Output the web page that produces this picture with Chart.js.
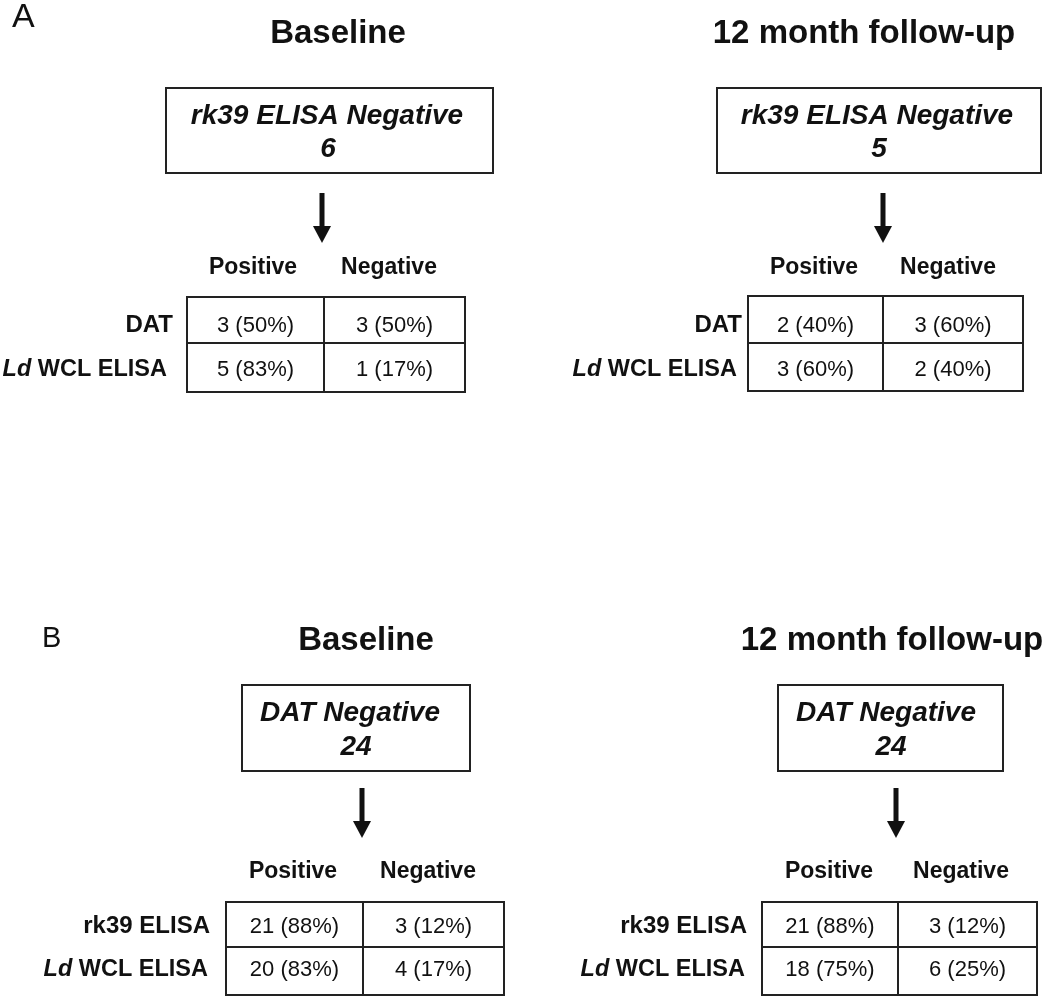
<!DOCTYPE html>
<html>
<head>
<meta charset="utf-8">
<script src="https://cdn.jsdelivr.net/npm/chart.js@4/dist/chart.umd.min.js"></script>
<style>
  html, body { margin: 0; padding: 0; background: #ffffff; }
  #wrap { width: 1050px; height: 997px; position: relative; }
</style>
</head>
<body>
<div id="wrap"><canvas id="c" width="1050" height="997"></canvas></div>
<script>
// ---------------- DATA ----------------
const panelLetters = ['A', 'B'];
const timepoints = ['Baseline', '12 month follow-up'];
const screenTests = ['rk39 ELISA Negative', 'DAT Negative'];
const screenTotalsA = [6, 5];
const screenTotalsB = [24, 24];
const resultColumns = ['Positive', 'Negative'];
const rowTestsA = ['DAT', 'Ld WCL ELISA'];
const rowTestsB = ['rk39 ELISA', 'Ld WCL ELISA'];

const countsABaseline = [[3, 3], [5, 1]];
const pctABaseline    = [[50, 50], [83, 17]];
const countsAFollowup = [[2, 3], [3, 2]];
const pctAFollowup    = [[40, 60], [60, 40]];
const countsBBaseline = [[21, 3], [20, 4]];
const pctBBaseline    = [[88, 12], [83, 17]];
const countsBFollowup = [[21, 3], [18, 6]];
const pctBFollowup    = [[88, 12], [75, 25]];

// ---------------- LAYOUT (in axis units) ----------------
const letterLayout = [
  { x: 12, base: 27, size: 34 },
  { x: 42, base: 647, size: 29 }
];
const panelLayout = [
  { // A baseline
    titleX: 338, titleBase: 43,
    box: [166, 88, 493, 173], line1X: 327, line1Base: 124, line2X: 328, line2Base: 157,
    arrowX: 322, arrowTop: 193, arrowTip: 243,
    headBase: 274, headX: [253, 389],
    table: [187, 297, 465, 392], midX: 324, midY: 343,
    rowBase: [332, 376], labelRight: [173, 167]
  },
  { // A follow-up
    titleX: 864, titleBase: 43,
    box: [717, 88, 1041, 173], line1X: 877, line1Base: 124, line2X: 879, line2Base: 157,
    arrowX: 883, arrowTop: 193, arrowTip: 243,
    headBase: 274, headX: [814, 948],
    table: [748, 296, 1023, 391], midX: 883, midY: 343,
    rowBase: [332, 376], labelRight: [742, 737]
  },
  { // B baseline
    titleX: 366, titleBase: 650,
    box: [242, 685, 470, 771], line1X: 350, line1Base: 721, line2X: 356, line2Base: 755,
    arrowX: 362, arrowTop: 788, arrowTip: 838,
    headBase: 878, headX: [293, 428],
    table: [226, 902, 504, 995], midX: 363, midY: 947,
    rowBase: [933, 976], labelRight: [210, 208]
  },
  { // B follow-up
    titleX: 892, titleBase: 650,
    box: [778, 685, 1003, 771], line1X: 886, line1Base: 721, line2X: 891, line2Base: 755,
    arrowX: 896, arrowTop: 788, arrowTip: 838,
    headBase: 878, headX: [829, 961],
    table: [762, 902, 1037, 995], midX: 898, midY: 947,
    rowBase: [933, 976], labelRight: [747, 745]
  }
];

const FONT = "'Liberation Sans', Arial, Helvetica, sans-serif";
const INK = '#111111';
const LINE = '#222222';

const panels = [
  { title: timepoints[0], screen: screenTests[0], total: screenTotalsA[0], rows: rowTestsA, counts: countsABaseline, pct: pctABaseline },
  { title: timepoints[1], screen: screenTests[0], total: screenTotalsA[1], rows: rowTestsA, counts: countsAFollowup, pct: pctAFollowup },
  { title: timepoints[0], screen: screenTests[1], total: screenTotalsB[0], rows: rowTestsB, counts: countsBBaseline, pct: pctBBaseline },
  { title: timepoints[1], screen: screenTests[1], total: screenTotalsB[1], rows: rowTestsB, counts: countsBFollowup, pct: pctBFollowup }
];

const flowPlugin = {
  id: 'flowDiagram',
  afterDraw(chart) {
    const ctx = chart.ctx;
    const xs = chart.scales.x, ys = chart.scales.y;
    const X = v => xs.getPixelForValue(v);
    const Y = v => ys.getPixelForValue(v);
    const crisp = (p, w) => (Math.round(w) % 2 === 1 ? Math.round(p) + 0.5 : Math.round(p));

    ctx.save();
    ctx.fillStyle = INK;
    ctx.textBaseline = 'alphabetic';

    // panel letters
    panelLetters.forEach((L, i) => {
      const l = letterLayout[i];
      ctx.font = `400 ${l.size}px ${FONT}`;
      ctx.textAlign = 'left';
      ctx.fillText(L, X(l.x), Y(l.base));
    });

    const rect = (x0, y0, x1, y1, w) => {
      ctx.lineWidth = w;
      ctx.strokeStyle = LINE;
      ctx.strokeRect(crisp(X(x0), w), crisp(Y(y0), w), Math.round(X(x1) - X(x0)), Math.round(Y(y1) - Y(y0)));
    };
    const hline = (x0, x1, y, w) => {
      ctx.lineWidth = w; ctx.strokeStyle = LINE;
      ctx.beginPath(); ctx.moveTo(X(x0), crisp(Y(y), w)); ctx.lineTo(X(x1), crisp(Y(y), w)); ctx.stroke();
    };
    const vline = (x, y0, y1, w) => {
      ctx.lineWidth = w; ctx.strokeStyle = LINE;
      ctx.beginPath(); ctx.moveTo(crisp(X(x), w), Y(y0)); ctx.lineTo(crisp(X(x), w), Y(y1)); ctx.stroke();
    };

    panels.forEach((p, i) => {
      const L = panelLayout[i];

      // title
      ctx.font = `700 33px ${FONT}`;
      ctx.textAlign = 'center';
      ctx.fillStyle = INK;
      ctx.fillText(p.title, X(L.titleX), Y(L.titleBase));

      // screening box
      rect(L.box[0], L.box[1], L.box[2], L.box[3], 2);
      ctx.font = `italic 700 28px ${FONT}`;
      ctx.fillText(p.screen, X(L.line1X), Y(L.line1Base));
      ctx.fillText(String(p.total), X(L.line2X), Y(L.line2Base));

      // arrow
      const headH = 17, headW = 18, shaftW = 5;
      ctx.fillStyle = INK;
      ctx.fillRect(X(L.arrowX) - shaftW / 2, Y(L.arrowTop), shaftW, Y(L.arrowTip) - headH - Y(L.arrowTop) + 1);
      ctx.beginPath();
      ctx.moveTo(X(L.arrowX) - headW / 2, Y(L.arrowTip) - headH);
      ctx.lineTo(X(L.arrowX) + headW / 2, Y(L.arrowTip) - headH);
      ctx.lineTo(X(L.arrowX), Y(L.arrowTip));
      ctx.closePath();
      ctx.fill();

      // column headers
      ctx.font = `700 23px ${FONT}`;
      ctx.textAlign = 'center';
      resultColumns.forEach((c, j) => ctx.fillText(c, X(L.headX[j]), Y(L.headBase)));

      // table grid
      const [tx0, ty0, tx1, ty1] = L.table;
      hline(tx0 - 1, tx1 + 1, ty0, 2);
      hline(tx0 - 1, tx1 + 1, L.midY, 2);
      hline(tx0 - 1, tx1 + 1, ty1, 2);
      vline(tx0, ty0, ty1, 2);
      vline(L.midX, ty0, ty1, 2);
      vline(tx1, ty0, ty1, 2);

      // row labels
      p.rows.forEach((r, k) => {
        const base = Y(L.rowBase[k]);
        const right = X(L.labelRight[k]);
        ctx.textAlign = 'right';
        if (r.startsWith('Ld ')) {
          const rest = r.slice(2);
          ctx.font = `700 23.5px ${FONT}`;
          ctx.fillText(rest, right, base);
          const wRest = ctx.measureText(rest).width;
          ctx.font = `italic 700 23.5px ${FONT}`;
          ctx.fillText('Ld', right - wRest, base);
        } else {
          ctx.font = `700 24px ${FONT}`;
          ctx.fillText(r, right, base);
        }
      });

      // cells
      ctx.font = `400 22px ${FONT}`;
      ctx.textAlign = 'center';
      const colCenters = [(tx0 + L.midX) / 2, (L.midX + tx1) / 2];
      p.counts.forEach((row, k) => {
        row.forEach((n, j) => {
          ctx.fillText(`${n} (${p.pct[k][j]}%)`, X(colCenters[j]), Y(L.rowBase[k]));
        });
      });
    });

    ctx.restore();
  }
};

new Chart(document.getElementById('c'), {
  type: 'scatter',
  data: { datasets: [{ data: [], pointRadius: 0 }] },
  options: {
    responsive: false,
    animation: false,
    layout: { padding: 0 },
    plugins: { legend: { display: false }, tooltip: { enabled: false } },
    scales: {
      x: { type: 'linear', min: 0, max: 1050, display: false },
      y: { type: 'linear', min: 0, max: 997, reverse: true, display: false }
    }
  },
  plugins: [flowPlugin]
});
</script>
</body>
</html>
